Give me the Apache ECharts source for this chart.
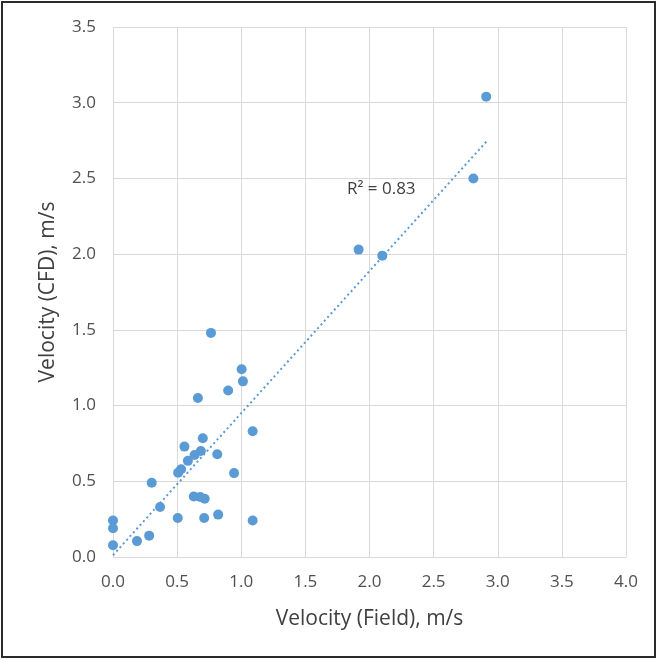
<!DOCTYPE html>
<html>
<head>
<meta charset="utf-8">
<script src="https://cdn.jsdelivr.net/npm/echarts@6/dist/echarts.min.js"></script>
<style>
  html, body { margin: 0; padding: 0; background: #fff; }
  #chart { width: 658px; height: 660px; }
</style>
</head>
<body>
<div id="chart"></div>
<script>
// field velocity (x) vs CFD velocity (y), m/s
const fieldVel = [2.91, 2.81, 1.915, 2.10, 0.764, 1.003, 1.013, 0.898, 0.662, 1.089,
  0.70, 0.557, 0.813, 0.685, 0.636, 0.584, 0.531, 0.508, 0.944, 0.302,
  0.63, 0.68, 0.715, 0.367, 0.505, 0.711, 0.82, 1.089, 0.0, 0.0,
  0.0, 0.187, 0.282];
const cfdVel = [3.04, 2.50, 2.03, 1.99, 1.48, 1.24, 1.16, 1.10, 1.05, 0.83,
  0.784, 0.729, 0.679, 0.70, 0.673, 0.635, 0.579, 0.557, 0.554, 0.49,
  0.40, 0.396, 0.385, 0.33, 0.258, 0.258, 0.28, 0.241, 0.241, 0.19,
  0.078, 0.105, 0.141];
const xTicks = ['0.0', '0.5', '1.0', '1.5', '2.0', '2.5', '3.0', '3.5', '4.0'];
const yTicks = ['0.0', '0.5', '1.0', '1.5', '2.0', '2.5', '3.0', '3.5'];
const r2Label = 'R² = 0.83';

const points = fieldVel.map((x, i) => [x, cfdVel[i]]);

// linear trendline (least squares), drawn from min x to max x like excel
function trend() {
  const n = fieldVel.length;
  let sx = 0, sy = 0, sxx = 0, sxy = 0;
  for (let i = 0; i < n; i++) {
    sx += fieldVel[i]; sy += cfdVel[i];
    sxx += fieldVel[i] * fieldVel[i]; sxy += fieldVel[i] * cfdVel[i];
  }
  const b = (n * sxy - sx * sy) / (n * sxx - sx * sx);
  const a = (sy - b * sx) / n;
  const x0 = Math.min(...fieldVel), x1 = Math.max(...fieldVel);
  return [[x0, a + b * x0], [x1, a + b * x1]];
}

const font = '"Open Sans", sans-serif';
const chart = echarts.init(document.getElementById('chart'));
chart.setOption({
  animation: false,
  grid: { left: 113, right: 32, top: 27, bottom: 103 },
  xAxis: {
    type: 'value', min: 0, max: 4, interval: 0.5,
    name: 'Velocity (Field), m/s', nameLocation: 'middle', nameGap: 52,
    nameTextStyle: { color: '#404040', fontSize: 21, fontFamily: font },
    axisLine: { show: true, lineStyle: { color: '#d9d9d9', width: 1 } },
    axisTick: { show: false },
    axisLabel: { color: '#505050', fontSize: 17, fontFamily: font, margin: 17,
      formatter: v => xTicks[Math.round(v / 0.5)] },
    splitLine: { lineStyle: { color: '#d9d9d9', width: 1 } }
  },
  yAxis: {
    type: 'value', min: 0, max: 3.5, interval: 0.5,
    name: 'Velocity (CFD), m/s', nameLocation: 'middle', nameGap: 54,
    nameTextStyle: { color: '#404040', fontSize: 21, fontFamily: font },
    axisLine: { show: false },
    axisTick: { show: false },
    axisLabel: { color: '#505050', fontSize: 17, fontFamily: font, margin: 17,
      formatter: v => yTicks[Math.round(v / 0.5)] },
    splitLine: { lineStyle: { color: '#d9d9d9', width: 1 } }
  },
  graphic: [
    { type: 'rect', silent: true, z: 100,
      shape: { x: 2, y: 2, width: 653, height: 655 },
      style: { fill: 'none', stroke: '#2b2b2b', lineWidth: 2 } },
    { type: 'text', left: 347, top: 181, z: 100,
      style: { text: r2Label, fill: '#404040', fontSize: 17, fontFamily: font } }
  ],
  series: [
    {
      type: 'scatter', data: points, symbolSize: 10,
      itemStyle: { color: '#5b9bd5', opacity: 1 }
    },
    {
      type: 'line', data: trend(), symbol: 'none', z: 1,
      lineStyle: { color: '#5b9bd5', width: 2, type: [2, 3] }
    }
  ]
});
</script>
</body>
</html>
